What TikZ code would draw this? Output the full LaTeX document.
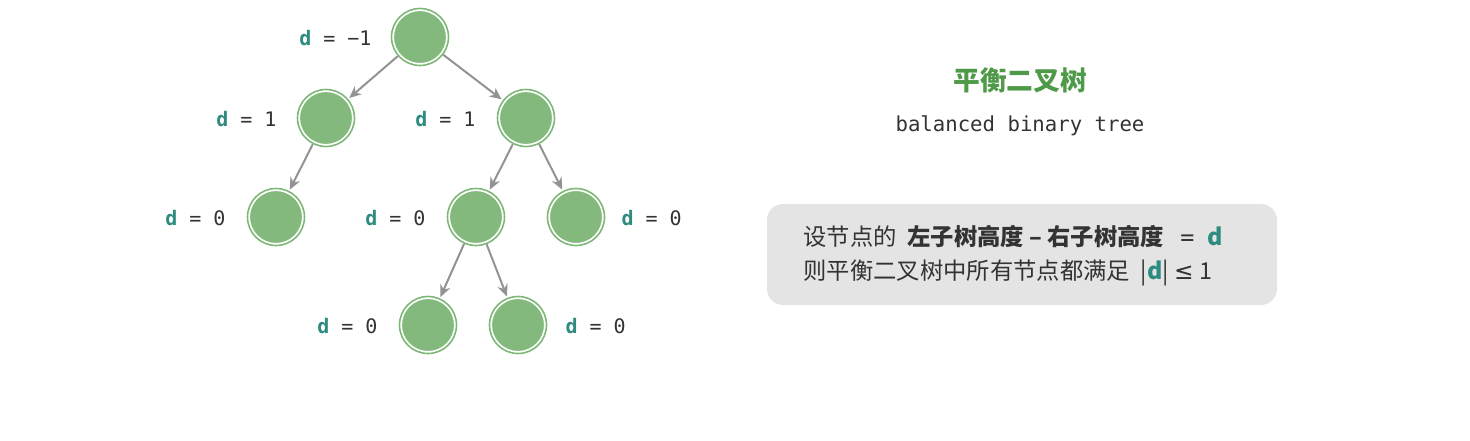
\documentclass[tikz,border=0pt]{standalone}
\usepackage{fontspec}
\setmonofont{DejaVu Sans Mono}
\newfontfamily\cjk{Noto Sans CJK SC}
\newfontfamily\symf{DejaVu Sans}
\usetikzlibrary{arrows.meta}
\definecolor{nodegreen}{HTML}{84B97E}
\definecolor{ringgreen}{HTML}{7DB877}
\definecolor{dteal}{HTML}{2E8B80}
\definecolor{txtgray}{HTML}{333333}
\definecolor{boxgray}{HTML}{E4E4E4}
\definecolor{titlegreen}{HTML}{4F9A48}
\tikzset{every picture/.style={line width=0.75pt}}
\tikzset{
  tnode/.style={circle,fill=nodegreen,draw=white,line width=1.5pt,minimum size=40.5pt,inner sep=0pt},
  tedge/.style={draw=gray!85,line width=1.5pt,-{Stealth[length=9pt,width=8pt]},shorten >=2pt,shorten <=1pt},
  dlab/.style={font=\ttfamily\fontsize{15}{17}\selectfont,text=txtgray,inner sep=0pt}
}
\newcommand{\dd}{\textcolor{dteal}{\textbf{d}}}

\begin{document}
\begin{tikzpicture}[x=0.75pt,y=0.75pt,yscale=-1]
	\useasboundingbox (0,0) rectangle (1470,440);
	
	%Nodes
	\node[tnode] (root) at (420,37) {};
	\node[tnode] (l) at (326,118) {};
	\node[tnode] (r) at (526,118) {};
	\node[tnode] (ll) at (276,217) {};
	\node[tnode] (rl) at (476,217) {};
	\node[tnode] (rr) at (576,217) {};
	\node[tnode] (rll) at (428,325) {};
	\node[tnode] (rlr) at (518,325) {};
	\foreach \n in {root,l,r,ll,rl,rr,rll,rlr}
		\draw[ringgreen,line width=1.2pt] (\n) circle (28.5);
	
	%Edges
	\draw[tedge] (root) -- (l);
	\draw[tedge] (root) -- (r);
	\draw[tedge] (l) -- (ll);
	\draw[tedge] (r) -- (rl);
	\draw[tedge] (r) -- (rr);
	\draw[tedge] (rl) -- (rll);
	\draw[tedge] (rl) -- (rlr);
	
	% Text Node
	\node[dlab,anchor=east] (lroot) at (372,38) {\dd{} = −1};
	\node[dlab,anchor=east] (ll1) at (277,119) {\dd{} = 1};
	\node[dlab,anchor=east] (lr1) at (476,119) {\dd{} = 1};
	\node[dlab,anchor=east] (lll) at (226,218) {\dd{} = 0};
	\node[dlab,anchor=east] (lrl) at (426,218) {\dd{} = 0};
	\node[dlab,anchor=west] (lrr) at (621,218) {\dd{} = 0};
	\node[dlab,anchor=east] (lrll) at (378,326) {\dd{} = 0};
	\node[dlab,anchor=west] (lrlr) at (565,326) {\dd{} = 0};
	
	%Legend
	\node[font=\cjk\bfseries\fontsize{20}{22}\selectfont,text=titlegreen] (title) at (1020,80) {平衡二叉树};
	\node[font=\ttfamily\fontsize{15.5}{17}\selectfont,text=txtgray] (sub) at (1020,126) {balanced binary tree};
	\draw[fill=boxgray,draw=none,rounded corners=12pt] (767,204) rectangle (1277,305);
	\node[anchor=west,font=\cjk\fontsize{17.5}{19}\selectfont,text=txtgray,inner sep=0pt] (line1) at (803,237)
		{设节点的\hspace{8pt}\textbf{左子树高度 – 右子树高度}\hspace{12pt}{\ttfamily =}\hspace{10pt}\textcolor{dteal}{\textbf{d}}};
	\node[anchor=west,font=\cjk\fontsize{17.5}{19}\selectfont,text=txtgray,inner sep=0pt] (line2) at (803,273)
		{则平衡二叉树中所有节点都满足\hspace{8pt}|\textcolor{dteal}{\textbf{d}}|\hspace{4pt}{\symf ≤}\hspace{4pt}1};
\end{tikzpicture}
\end{document}
